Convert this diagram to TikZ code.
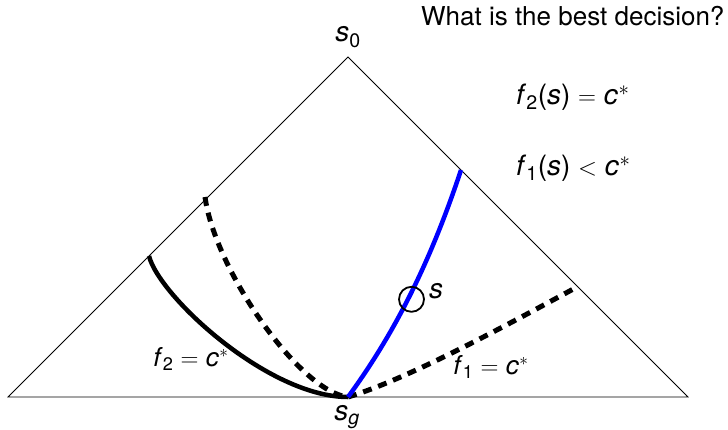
\documentclass[tikz,border=0pt]{standalone}
\usepackage{fontspec}
\setmainfont{TeX Gyre Heros}
\newcommand{\sym}[1]{\textit{#1}}
\newcommand{\cstar}{\sym{c}\kern0.5pt$^{*}$}
\begin{document}
\begin{tikzpicture}[x=1pt,y=-1pt,
  lbl/.style={inner sep=0pt,font=\fontsize{26}{30}\selectfont},
  biglbl/.style={inner sep=0pt,font=\fontsize{28}{32}\selectfont},
  edge/.style={line width=0.8pt},
  thick curve/.style={line width=4.5pt},
  dashcurve/.style={line width=5pt,dash pattern=on 9pt off 7pt}]
\useasboundingbox (0,0) rectangle (728,429);
% triangle corners
\coordinate (s0) at (348,57);
\coordinate (bl) at (8,397);
\coordinate (br) at (688,397);
\coordinate (sg) at (348,397);
% curve end points
\coordinate (blueTop) at (461,170);
\coordinate (solidTop) at (149,256);
\coordinate (dashLTop) at (205,197);
\coordinate (dashREnd) at (577,287);
\draw[edge] (bl) -- (s0) -- (br) -- cycle;
% solid black f2 = c*
\draw[thick curve,black] (solidTop) .. controls (159,296) and (268,397) .. (sg);
% dashed left
\draw[dashcurve] (dashLTop) .. controls (215,270) and (300,392) .. (sg);
% dashed right
\draw[dashcurve] (sg) .. controls (408,379) and (507,325) .. (dashREnd);
% blue
\draw[thick curve,blue] (blueTop) .. controls (436,245) and (403,322) .. (sg);
% state s
\node[circle,draw,line width=1.8pt,minimum size=25pt,inner sep=0pt] (s) at (411.5,299.3) {};
\node[biglbl] (slabel) at (436,291) {\sym{s}};
\node[biglbl] (s0label) at (348,37) {\sym{s}\textsubscript{0}};
\node[biglbl] (sglabel) at (347,417) {\sym{s}\textsubscript{\sym{g}}};
\node[lbl] (f2lbl) at (191,359) {\sym{f}\textsubscript{2} $=$ \cstar};
\node[lbl] (f1lbl) at (491,367) {\sym{f}\textsubscript{1} $=$ \cstar};
\node[lbl,anchor=west] (q) at (421,16) {What is the best decision?};
\node[biglbl,anchor=west] (c1) at (516,97) {\sym{f}\textsubscript{2}(\sym{s}) $=$ \cstar};
\node[biglbl,anchor=west] (c2) at (516,168) {\sym{f}\textsubscript{1}(\sym{s}) $<$ \cstar};
\end{tikzpicture}
\end{document}
